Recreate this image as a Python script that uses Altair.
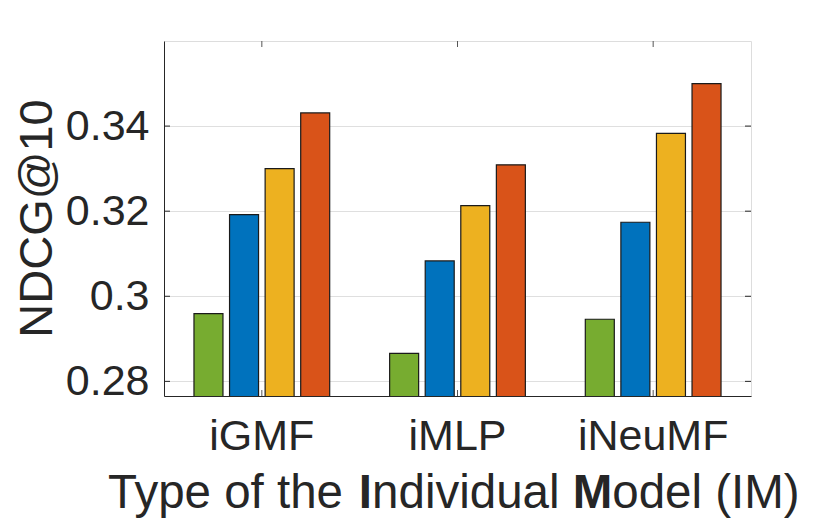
import altair as alt
import pandas as pd

# ---- data ----
groups = ["iGMF", "iMLP", "iNeuMF"]
series = ["Series 1", "Series 2", "Series 3", "Series 4"]
colors = ["#77AC30", "#0072BD", "#EDB120", "#D95319"]
vals_s1 = [0.2959, 0.2866, 0.2946]
vals_s2 = [0.3192, 0.3083, 0.3174]
vals_s3 = [0.3300, 0.3213, 0.3383]
vals_s4 = [0.3431, 0.3309, 0.3500]
y_ticks = [0.28, 0.30, 0.32, 0.34]
y_domain = [0.27656, 0.36]
y_title = "NDCG@10"
x_title_parts = [("Type of the ", "normal"), ("I", "bold"), ("ndividual ", "normal"),
                 ("M", "bold"), ("odel (IM)", "normal")]

W, H = 587, 355
FONT = "Liberation Sans"
TXT = "#262626"

rows = []
for s, vals in zip(series, [vals_s1, vals_s2, vals_s3, vals_s4]):
    for g, v in zip(groups, vals):
        rows.append({"group": g, "series": s, "value": v})
df = pd.DataFrame(rows)
tick_df = pd.DataFrame({"value": y_ticks})
grp_df = pd.DataFrame({"group": groups})

yscale = alt.Scale(domain=y_domain, zero=False, nice=False)
xscale = alt.Scale(domain=groups, paddingInner=0, paddingOuter=0)

x_axis = alt.Axis(title=None, labelAngle=0, labelFontSize=43, labelFont=FONT,
                  labelColor=TXT, labelPadding=19, ticks=False,
                  domainColor="#262626", domainWidth=1)
y_axis = alt.Axis(title=None, values=y_ticks, format=".2~f", labelFontSize=43,
                  labelFont=FONT, labelColor=TXT, labelPadding=15, ticks=False,
                  grid=True, gridColor="#dfdfdf", gridWidth=1,
                  domainColor="#262626", domainWidth=1)

bars = alt.Chart(df).mark_bar(stroke="#1a1a1a", strokeWidth=1.2, clip=True).encode(
    x=alt.X("group:N", sort=groups, scale=xscale, axis=x_axis),
    xOffset=alt.XOffset("series:N", sort=series,
                        scale=alt.Scale(domain=series, paddingInner=0.185, paddingOuter=0.8425)),
    y=alt.Y("value:Q", scale=yscale, axis=y_axis),
    color=alt.Color("series:N", scale=alt.Scale(domain=series, range=colors), legend=None),
)

ytick_l = alt.Chart(tick_df).mark_rule(color="#262626", strokeWidth=1).encode(
    y=alt.Y("value:Q", scale=yscale, axis=y_axis), x=alt.value(0), x2=alt.value(6))
ytick_r = alt.Chart(tick_df).mark_rule(color="#262626", strokeWidth=1).encode(
    y=alt.Y("value:Q", scale=yscale, axis=y_axis), x=alt.value(W - 6), x2=alt.value(W))
xtick_t = alt.Chart(grp_df).mark_rule(color="#555555", strokeWidth=1).encode(
    x=alt.X("group:N", sort=groups, scale=xscale, bandPosition=0.5, axis=x_axis),
    y=alt.value(0), y2=alt.value(6))
xtick_b = alt.Chart(grp_df).mark_rule(color="#555555", strokeWidth=1).encode(
    x=alt.X("group:N", sort=groups, scale=xscale, bandPosition=0.5, axis=x_axis),
    y=alt.value(H - 6), y2=alt.value(H))

ytitle = alt.Chart(pd.DataFrame({"t": [y_title]})).mark_text(
    angle=270, align="center", baseline="middle", fontSize=47, font=FONT, color=TXT
).encode(x=alt.value(-126), y=alt.value(H / 2), text="t:N")

# Arial / Liberation Sans advance widths (per 1000 em) for title layout
adv = {"T": 611, "y": 500, "p": 556, "e": 556, " ": 278, "o": 556, "f": 278, "t": 278,
       "h": 556, "I": 278, "n": 556, "d": 556, "i": 222, "v": 500, "u": 556, "a": 556,
       "l": 222, "M": 833, "(": 333, ")": 333}
TF = 47.5
xpos = -56.0
layers_title = []
for txt, wt in x_title_parts:
    layers_title.append(
        alt.Chart(pd.DataFrame({"t": [txt]})).mark_text(
            align="left", baseline="alphabetic", fontSize=TF, font=FONT,
            fontWeight=wt, color=TXT
        ).encode(x=alt.value(xpos), y=alt.value(466.5), text="t:N")
    )
    xpos += sum(adv[c] for c in txt) / 1000.0 * TF

chart = alt.layer(bars, ytick_l, ytick_r, xtick_t, xtick_b, ytitle, *layers_title).properties(
    width=W, height=H,
    padding={"left": 156, "top": 33, "right": 60, "bottom": 122},
    autosize=alt.AutoSizeParams(type="none"),
).configure_view(stroke="#555555", strokeWidth=1).configure(background="white")

chart.save("out.html", embed_options={"renderer": "svg", "actions": False})
